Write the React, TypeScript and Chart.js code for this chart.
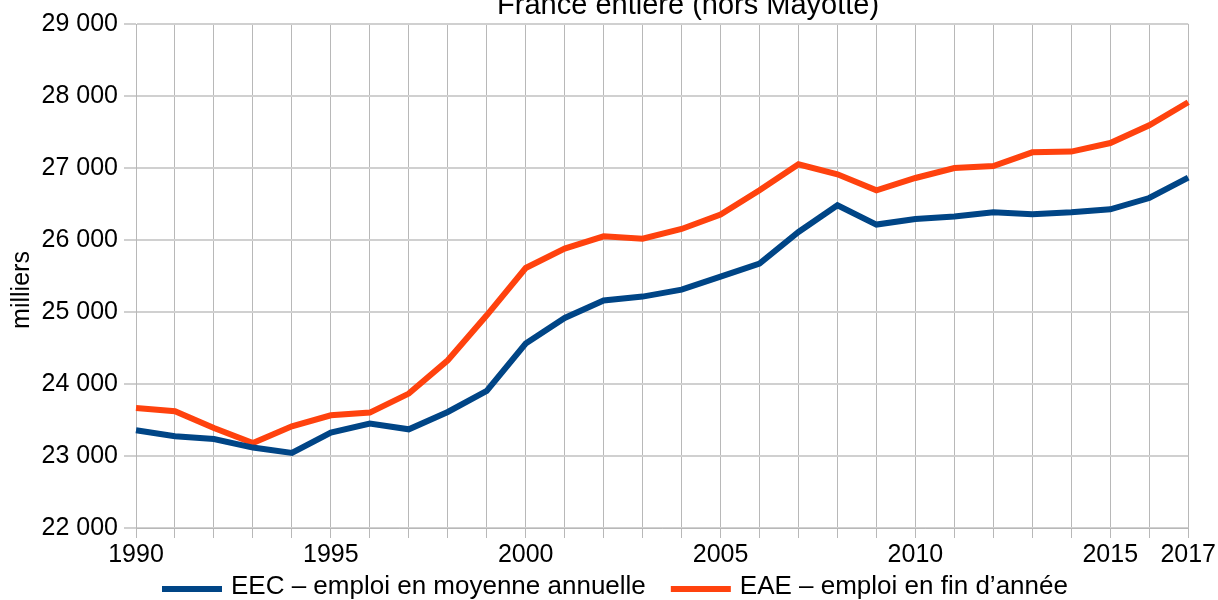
import { useEffect, useRef } from "react";
import { Chart, registerables } from "chart.js";

Chart.register(...registerables);

const years = [
  "1990", "1991", "1992", "1993", "1994", "1995", "1996", "1997", "1998", "1999",
  "2000", "2001", "2002", "2003", "2004", "2005", "2006", "2007", "2008", "2009",
  "2010", "2011", "2012", "2013", "2014", "2015", "2016", "2017",
];

const eec = [
  23357, 23274, 23236, 23117, 23042, 23325, 23450, 23371, 23611, 23903,
  24561, 24917, 25160, 25214, 25311, 25492, 25672, 26111, 26482, 26214,
  26292, 26325, 26385, 26357, 26385, 26426, 26583, 26867,
];

const eae = [
  23667, 23621, 23389, 23181, 23413, 23565, 23603, 23867, 24329, 24954,
  25611, 25880, 26051, 26019, 26153, 26353, 26690, 27051, 26912, 26690,
  26861, 27000, 27028, 27218, 27228, 27347, 27593, 27913,
];

const shownYears = ["1990", "1995", "2000", "2005", "2010", "2015", "2017"];

const seriesNames = ["EEC – emploi en moyenne annuelle", "EAE – emploi en fin d’année"];
const seriesColors = ["#004586", "#ff420e"];
const titleText = "France entière (hors Mayotte)";
const yAxisTitle = "milliers";
const yMin = 22000;
const yMax = 29000;
const yStep = 1000;

const FONT = "Liberation Sans, Arial, sans-serif";

function fmt(v: number): string {
  return String(v).replace(/\B(?=(\d{3})+(?!\d))/g, " ");
}

const decorPlugin = {
  id: "decor",
  afterDraw(chart: any) {
    const ctx = chart.ctx as CanvasRenderingContext2D;
    const area = chart.chartArea;
    ctx.save();
    ctx.fillStyle = "#000";

    // title (partially cut off at top)
    ctx.font = `29px ${FONT}`;
    ctx.textAlign = "center";
    ctx.textBaseline = "alphabetic";
    ctx.fillText(titleText, (area.left + area.right) / 2 + 26, 14);

    // y axis title
    ctx.font = `25px ${FONT}`;
    ctx.save();
    ctx.translate(22, (area.top + area.bottom) / 2 + 14);
    ctx.rotate(-Math.PI / 2);
    ctx.textAlign = "center";
    ctx.textBaseline = "middle";
    ctx.fillText(yAxisTitle, 0, 0);
    ctx.restore();

    // legend
    ctx.font = `26px ${FONT}`;
    const lineW = 60;
    const gapText = 9;
    const gapItem = 25;
    const widths = seriesNames.map((s) => ctx.measureText(s).width);
    let x = area.left + 26;
    const yLine = 589;
    ctx.textAlign = "left";
    ctx.textBaseline = "middle";
    chart.data.datasets.forEach((ds: any, i: number) => {
      ctx.fillStyle = ds.borderColor;
      ctx.fillRect(x, yLine - 3, lineW, 6);
      x += lineW + gapText;
      ctx.fillStyle = "#000";
      ctx.fillText(seriesNames[i], x, yLine - 2);
      x += widths[i] + gapItem;
    });
    ctx.restore();
  },
};

export default function App() {
  const ref = useRef<HTMLCanvasElement | null>(null);

  useEffect(() => {
    if (!ref.current) return;
    const chart = new Chart(ref.current, {
      type: "line",
      data: {
        labels: years,
        datasets: [
          {
            label: seriesNames[0],
            data: eec,
            borderColor: seriesColors[0],
            backgroundColor: seriesColors[0],
            borderWidth: 6,
            pointRadius: 0,
            tension: 0,
            fill: false,
          },
          {
            label: seriesNames[1],
            data: eae,
            borderColor: seriesColors[1],
            backgroundColor: seriesColors[1],
            borderWidth: 6,
            pointRadius: 0,
            tension: 0,
            fill: false,
          },
        ],
      },
      options: {
        animation: false,
        responsive: false,
        maintainAspectRatio: false,
        layout: { padding: { top: 24, right: 29, bottom: 0, left: 0 } },
        plugins: {
          legend: { display: false },
          title: { display: false },
          tooltip: { enabled: false },
        },
        scales: {
          x: {
            type: "category",
            offset: false,
            grid: {
              color: "#b8b8b8",
              lineWidth: 1,
              drawTicks: true,
              tickLength: 10,
            },
            border: { display: true, color: "#b8b8b8", width: 1 },
            ticks: {
              autoSkip: false,
              maxRotation: 0,
              minRotation: 0,
              color: "#000",
              font: { family: FONT, size: 25 },
              padding: 2,
              callback: function (this: any, value: any) {
                const lab = this.getLabelForValue(value);
                return shownYears.includes(lab) ? lab : "";
              },
            },
            afterFit(scale: any) {
              scale.height = 72;
            },
          },
          y: {
            min: yMin,
            max: yMax,
            grid: {
              color: "#d0d0d0",
              lineWidth: 2,
              drawTicks: true,
              tickLength: 12,
            },
            border: { display: true, color: "#b8b8b8", width: 1 },
            ticks: {
              stepSize: yStep,
              color: "#000",
              font: { family: FONT, size: 25 },
              padding: 6,
              callback: (v: any) => fmt(Number(v)),
            },
            afterFit(scale: any) {
              scale.width = 136;
            },
          },
        },
      },
      plugins: [decorPlugin],
    });
    return () => chart.destroy();
  }, []);

  return (
    <div style={{ position: "fixed", left: 0, top: 0, width: 1218, height: 600, background: "#fff" }}>
      <canvas ref={ref} width={1218} height={600} style={{ display: "block" }} />
    </div>
  );
}
